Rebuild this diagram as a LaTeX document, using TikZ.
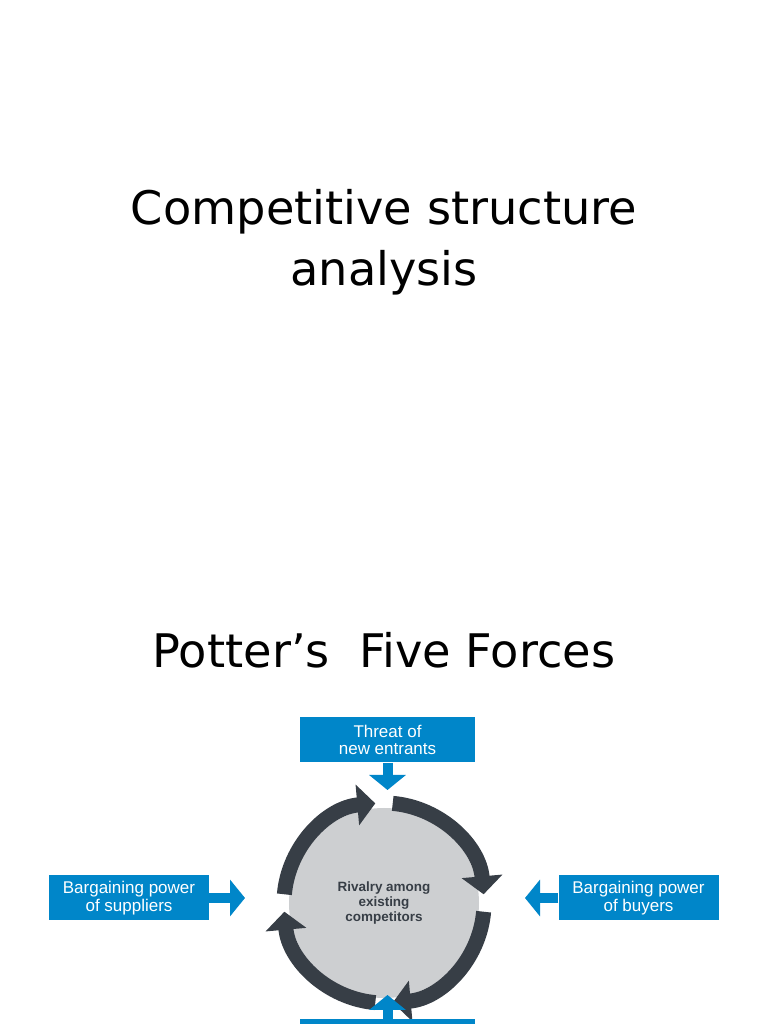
\documentclass[tikz,border=0pt]{standalone}
\usepackage{fontspec}
\setmainfont{DejaVu Sans}
\newfontfamily\boxfont{Liberation Sans}
\usetikzlibrary{positioning,calc,arrows.meta}
\definecolor{forceblue}{RGB}{0, 134, 201}
\definecolor{ringgray}{RGB}{55, 62, 70}
\definecolor{diskgray}{RGB}{205, 207, 209}
\tikzset{
  force/.style={fill=forceblue, text=white, minimum width=52.5mm, minimum height=13.5mm,
    align=center, inner sep=0pt, font=\boxfont\fontsize{14.5}{15}\selectfont},
  push/.style={draw=forceblue, line width=3mm,
    -{Triangle[length=4.5mm, width=10.8mm]}},
  turn/.style={draw=ringgray, line width=4.5mm,
    -{Triangle[length=5.4mm, width=12mm]}}
}
\begin{document}
\begin{tikzpicture}[x=0.3mm, y=0.3mm]
  \useasboundingbox[fill=white] (0,0) rectangle (768,1024);

  \node (title) at (384,781) {\fontsize{39.5}{52}\selectfont
    \begin{tabular}{c}Competitive structure\\analysis\end{tabular}};
  \node (forces) at (384,374) {\fontsize{39.5}{44}\selectfont Potter{\char"0027}s~ Five Forces};

  % centre
  \node[circle, fill=diskgray, minimum size=57mm, inner sep=0pt, align=center,
    text=ringgray, font=\boxfont\fontsize{11.5}{13}\selectfont\bfseries] (rivalry) at (384,121)
    {Rivalry among\\existing\\competitors};
  \foreach \s in {175,85,-5,-95}
    \draw[turn] ($(rivalry.center)+(\s:100)$) arc[start angle=\s, end angle=\s-80, radius=100];

  % forces
  \node[force] (entrants) at (387.5,284) {Threat of\\new entrants};
  \node[force, minimum width=48mm] (suppliers) at (129,126) {Bargaining power\\of suppliers};
  \node[force, minimum width=48mm] (buyers) at (638.5,126) {Bargaining power\\of buyers};
  \node[force] (substitutes) at (387.5,-18) {};

  \coordinate (topin) at (387.5,234);
  \coordinate (leftin) at (245,126);
  \coordinate (rightin) at (525,126);
  \coordinate (bottomin) at (387.5,29);
  \draw[push] (entrants.south) -- (topin);
  \draw[push] (suppliers.east) -- (leftin);
  \draw[push] (buyers.west) -- (rightin);
  \draw[push] (substitutes.north) -- (bottomin);
\end{tikzpicture}
\end{document}
